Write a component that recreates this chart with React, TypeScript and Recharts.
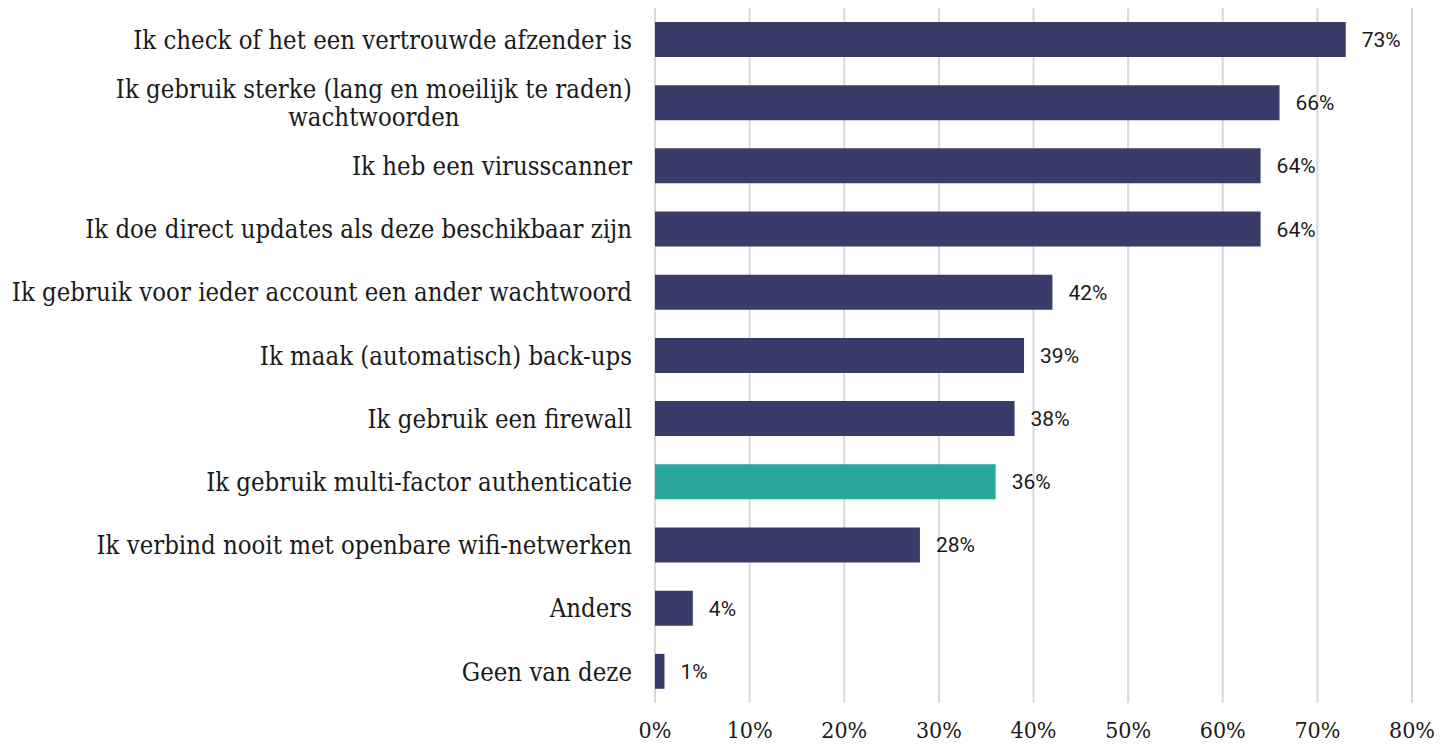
import React from 'react';
import { BarChart, Bar, XAxis, YAxis, CartesianGrid, LabelList, Cell } from 'recharts';

const categories: string[] = [
  'Ik check of het een vertrouwde afzender is',
  'Ik gebruik sterke (lang en moeilijk te raden)\nwachtwoorden',
  'Ik heb een virusscanner',
  'Ik doe direct updates als deze beschikbaar zijn',
  'Ik gebruik voor ieder account een ander wachtwoord',
  'Ik maak (automatisch) back-ups',
  'Ik gebruik een firewall',
  'Ik gebruik multi-factor authenticatie',
  'Ik verbind nooit met openbare wifi-netwerken',
  'Anders',
  'Geen van deze',
];
const values: number[] = [73, 66, 64, 64, 42, 39, 38, 36, 28, 4, 1];
const highlighted: boolean[] = [false, false, false, false, false, false, false, true, false, false, false];
const xTicks: number[] = [0, 10, 20, 30, 40, 50, 60, 70, 80];

const data = categories.map((name, i) => ({ name, value: values[i], hl: highlighted[i] }));

const SERIF = '"DejaVu Serif Condensed", "DejaVu Serif", serif';
const CAT_SIZE = 25.5;

let ctx: CanvasRenderingContext2D | null = null;
const measure = (s: string): number => {
  if (!ctx) {
    const c = document.createElement('canvas');
    ctx = c.getContext('2d');
  }
  if (!ctx) return s.length * CAT_SIZE * 0.5;
  ctx.font = `${CAT_SIZE}px ${SERIF}`;
  return ctx.measureText(s).width;
};

const CategoryTick = (props: any) => {
  const { x, y, payload } = props;
  const lines: string[] = String(payload.value).split('\n');
  const lh = 28;
  if (lines.length === 1) {
    return (
      <text x={x} y={y} dy="0.36em" textAnchor="end" fontFamily={SERIF} fontSize={CAT_SIZE} fill="#1a1a1a">
        {lines[0]}
      </text>
    );
  }
  const maxW = Math.max(...lines.map(measure));
  const cx = x - maxW / 2;
  return (
    <g>
      {lines.map((l, i) => (
        <text
          key={i}
          x={cx}
          y={y + (i - (lines.length - 1) / 2) * lh}
          dy="0.36em"
          textAnchor="middle"
          fontFamily={SERIF}
          fontSize={CAT_SIZE}
          fill="#1a1a1a"
        >
          {l}
        </text>
      ))}
    </g>
  );
};

export default function App() {
  return (
    <div style={{ position: 'absolute', left: 0, top: 0, width: 1442, height: 746, background: '#fff' }}>
      <BarChart
        width={1442}
        height={746}
        data={data}
        layout="vertical"
        margin={{ top: 8, right: 30, bottom: 0, left: 0 }}
      >
        <CartesianGrid horizontal={false} stroke="#d9d9d9" strokeWidth={2} />
        <XAxis
          type="number"
          domain={[0, 80]}
          ticks={xTicks}
          tickFormatter={(v: number) => `${v}%`}
          height={43}
          axisLine={false}
          tickLine={false}
          tickSize={0}
          tickMargin={19}
          interval={0}
          tick={{ fontFamily: SERIF, fontSize: 23, fill: '#1a1a1a' }}
        />
        <YAxis
          type="category"
          dataKey="name"
          width={655}
          axisLine={false}
          tickLine={false}
          tickSize={0}
          tickMargin={23}
          interval={0}
          tick={<CategoryTick />}
        />
        <Bar dataKey="value" barSize={35} isAnimationActive={false}>
          {data.map((d, i) => (
            <Cell key={i} fill={d.hl ? '#2aa69a' : '#393c68'} />
          ))}
          <LabelList
            dataKey="value"
            position="right"
            offset={16}
            formatter={(v: any) => `${v}%`}
            style={{ fontFamily: 'Roboto', fontSize: 21, fill: '#1a1a1a' }}
          />
        </Bar>
      </BarChart>
    </div>
  );
}
